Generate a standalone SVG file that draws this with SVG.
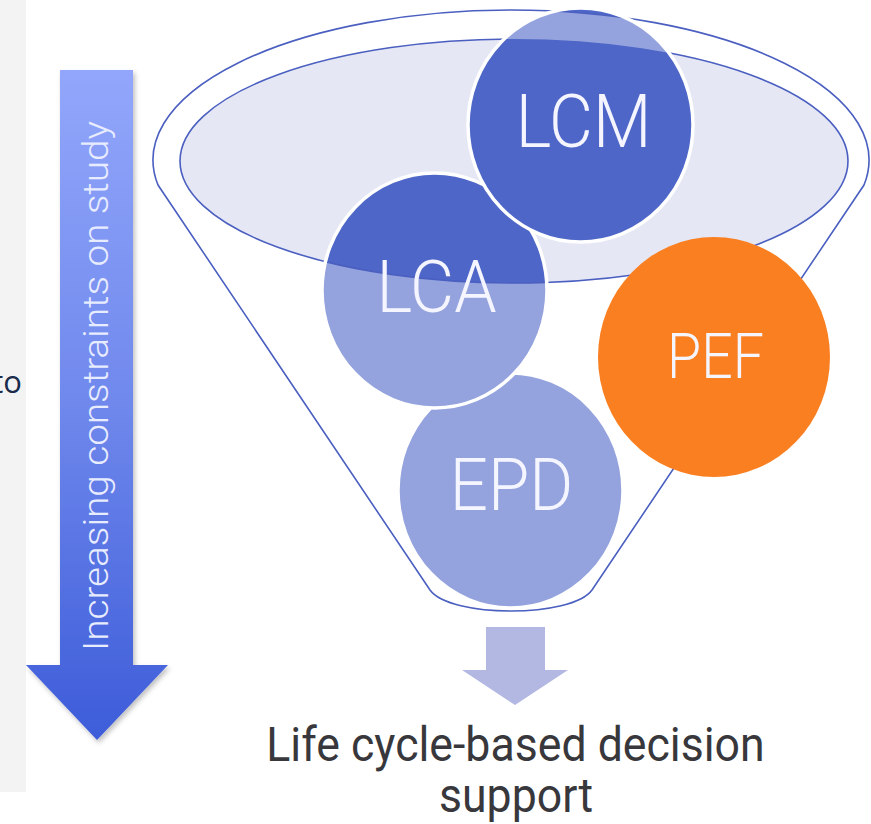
<svg xmlns="http://www.w3.org/2000/svg" width="871" height="824" viewBox="0 0 871 824">
  <style>
    .rim { fill: none; stroke: #4a5fc0; stroke-width: 1.6; }
    .dark { fill: #4d66c7; }
    .light { fill: #94a3dd; }
    .halo { fill: none; stroke: #ffffff; stroke-width: 3.5; }
    .label { font-family: Roboto, "Liberation Sans", sans-serif; font-weight: 300; fill: #f4f5ff; text-anchor: middle; }
    .caption { font-family: Roboto, "Liberation Sans", sans-serif; font-weight: 400; fill: #38383c; text-anchor: middle; }
  </style>
  <defs>
    <linearGradient id="barGrad" x1="0" y1="70" x2="0" y2="740" gradientUnits="userSpaceOnUse">
      <stop offset="0" stop-color="#92a7fb"/>
      <stop offset="0.5" stop-color="#6f88ec"/>
      <stop offset="1" stop-color="#3d5cd9"/>
    </linearGradient>
    <filter id="shadow" x="-20%" y="-10%" width="140%" height="120%">
      <feDropShadow dx="2" dy="3" stdDeviation="2.5" flood-color="#000" flood-opacity="0.25"/>
    </filter>
    <clipPath id="clipInner"><ellipse cx="514" cy="161" rx="334" ry="122"/></clipPath>
    <clipPath id="clipLCA"><ellipse cx="434.5" cy="290.5" rx="112.5" ry="117.5"/></clipPath>
    <clipPath id="clipLCM"><ellipse cx="580.5" cy="125" rx="112.5" ry="117"/></clipPath>
  </defs>

  <!-- side panel with clipped neighbouring text -->
  <rect x="0" y="0" width="26" height="792" fill="#f3f3f3"/>
  <text x="22" y="393" font-family="'Open Sans', 'Noto Sans', sans-serif" font-size="31" fill="#1a2b4c" text-anchor="end">to</text>

  <!-- vertical arrow -->
  <g id="constraints-arrow">
    <polygon points="60,70 133,70 133,665 168,665 97,740 26,665 60,665" fill="url(#barGrad)" filter="url(#shadow)"/>
    <text transform="translate(108,651) rotate(-90) scale(1,0.92)" font-family="Roboto, 'Liberation Sans', sans-serif" font-weight="300" font-size="38.8" fill="#e8ecff" textLength="530" lengthAdjust="spacing">Increasing constraints on study</text>
  </g>

  <!-- funnel body -->
  <g id="funnel">
    <path class="rim" d="M 158 185 A 358 150 0 1 1 864 185 L 592 590 C 572 618 450 618 430 590 Z" style="fill:#ffffff"/>
    <ellipse cx="514" cy="161" rx="334" ry="122" fill="#e5e7f5" stroke="#4a5fc0" stroke-width="1.6"/>
  </g>

  <g id="node-epd">
    <ellipse class="light" cx="510.5" cy="490.5" rx="112.5" ry="117.5"/>
    <ellipse class="halo" cx="510.5" cy="490.5" rx="112.5" ry="117.5"/>
  </g>

  <g id="node-lca">
    <ellipse class="light" cx="434.5" cy="290.5" rx="112.5" ry="117.5"/>
    <ellipse class="dark" cx="434.5" cy="290.5" rx="112.5" ry="117.5" clip-path="url(#clipInner)"/>
    <ellipse cx="514" cy="161" rx="334" ry="122" class="rim" clip-path="url(#clipLCA)"/>
    <ellipse class="halo" cx="434.5" cy="290.5" rx="112.5" ry="117.5"/>
  </g>

  <g id="node-lcm">
    <ellipse class="dark" cx="580.5" cy="125" rx="112.5" ry="117"/>
    <path class="light" fill-rule="evenodd" clip-path="url(#clipLCM)" d="M 153 160 A 358 150 0 1 1 869 160 A 358 150 0 1 1 153 160 Z M 180 161 A 334 122 0 1 0 848 161 A 334 122 0 1 0 180 161 Z"/>
    <path class="rim" clip-path="url(#clipLCM)" d="M 158 185 A 358 150 0 1 1 864 185"/>
    <ellipse class="halo" cx="580.5" cy="125" rx="112.5" ry="117"/>
  </g>

  <g id="node-pef">
    <ellipse cx="714" cy="357" rx="116" ry="120" fill="#fa7f20"/>
  </g>

  <!-- node labels -->
  <text class="label" font-size="75" transform="translate(583.5,147) scale(0.9,1)">LCM</text>
  <text class="label" font-size="73" transform="translate(436.5,312) scale(0.93,1)">LCA</text>
  <text class="label" font-size="73" transform="translate(511.5,510) scale(0.92,1)">EPD</text>
  <text class="label" font-size="63" transform="translate(715.5,378) scale(0.88,1)">PEF</text>

  <!-- outlet arrow -->
  <g id="connectors">
    <polygon points="486,627 545,627 545,670 568,670 515,705 462,670 486,670" fill="#b3b8e2"/>
  </g>

  <g id="node-outcome">
    <text class="caption" font-size="48" transform="translate(515.5,761) scale(0.93,1)">Life cycle-based decision</text>
    <text class="caption" font-size="48" transform="translate(516,812) scale(0.93,1)">support</text>
  </g>
</svg>
